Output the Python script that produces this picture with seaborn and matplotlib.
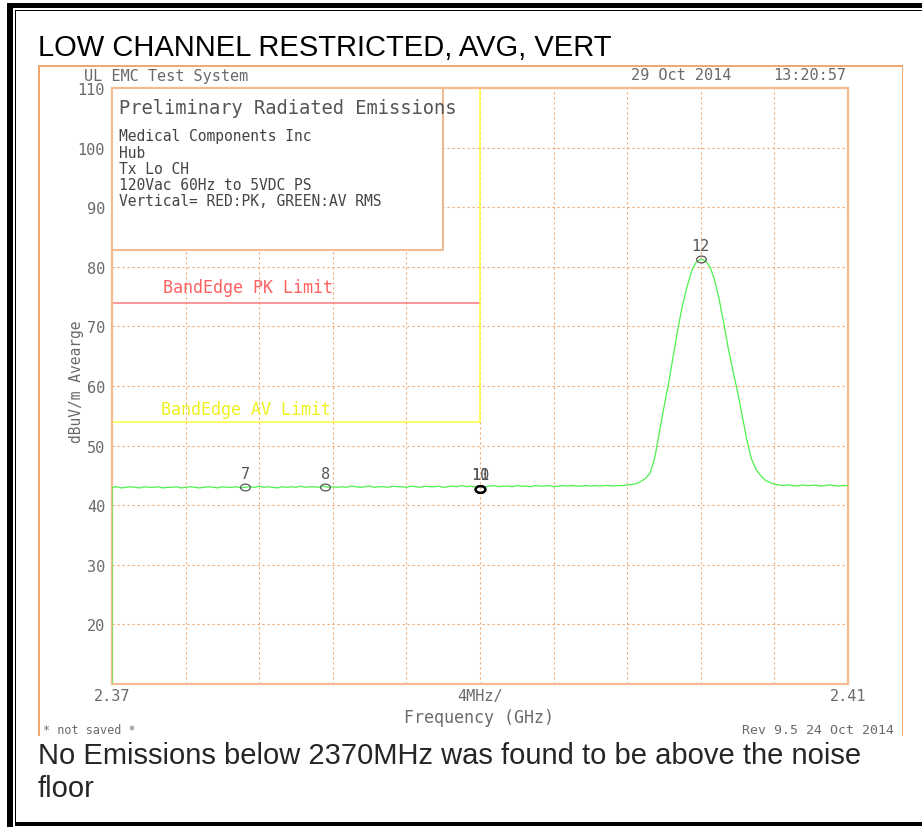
import numpy as np
import matplotlib
matplotlib.use("Agg")
import matplotlib.pyplot as plt
import seaborn as sns
from matplotlib.patches import Rectangle
from matplotlib.path import Path
from matplotlib.transforms import Affine2D

# sweep of the analyzer, 2.37 - 2.41 GHz (161 points, 0.25 MHz apart)
sweep_ghz = np.linspace(2.37, 2.41, 161)

# AV RMS trace, dBuV/m
trace_db = [
    43.0, 43.1, 42.9, 43.0, 43.1, 43.0, 42.9, 43.1, 43.0, 43.0,
    43.1, 42.9, 43.0, 43.0, 43.1, 42.9, 43.0, 43.1, 43.0, 42.9,
    43.0, 43.1, 43.0, 42.9, 43.1, 43.0, 43.0, 43.1, 42.9, 43.0,
    43.1, 43.0, 43.2, 43.0, 43.1, 43.0, 42.9, 43.1, 43.0, 43.1,
    43.0, 43.2, 43.0, 43.1, 43.1, 43.0, 43.2, 43.0, 43.1, 43.0,
    43.1, 43.0, 43.2, 43.1, 43.0, 43.1, 43.2, 43.0, 43.1, 43.1,
    43.0, 43.2, 43.1, 43.1, 43.0, 43.2, 43.1, 43.0, 43.2, 43.1,
    43.1, 43.2, 43.0, 43.1, 43.2, 43.1, 43.3, 43.1, 43.2, 43.1,
    43.2, 43.1, 43.2, 43.3, 43.1, 43.2, 43.2, 43.1, 43.3, 43.2,
    43.2, 43.1, 43.3, 43.2, 43.2, 43.3, 43.1, 43.2, 43.3, 43.2,
    43.3, 43.2, 43.2, 43.3, 43.2, 43.3, 43.2, 43.3, 43.3, 43.2,
    43.3, 43.3, 43.4, 43.5,
    43.6, 44.0, 44.5, 45.4, 48.0, 52.3, 56.5, 60.5, 65.0, 69.5,
    73.5, 76.6, 79.3, 80.8, 81.3, 81.0, 80.0, 77.8, 74.5, 70.5,
    66.2, 62.5, 59.0, 55.0, 51.0, 47.8, 46.0, 45.0, 44.2, 43.8,
    43.5,
    43.4, 43.3, 43.4, 43.3, 43.2, 43.4, 43.3, 43.3, 43.4, 43.2,
    43.3, 43.4, 43.3, 43.2, 43.3, 43.3,
]
trace_floor_db = 10.0  # trace starts from the bottom of the screen

# limit lines
pk_limit_ghz = [2.37, 2.39]
pk_limit_db = [74, 74]
av_limit_ghz = [2.37, 2.39, 2.39]
av_limit_db = [54, 54, 110]

# markers
marker_ids = ["7", "8", "10", "11", "12"]
marker_ghz = [2.37725, 2.3816, 2.39, 2.39, 2.402]
marker_db = [43.0, 43.0, 42.8, 42.8, 81.3]

info_lines = ["Medical Components Inc", "Hub", "Tx Lo CH",
              "120Vac 60Hz to 5VDC PS", "Vertical= RED:PK, GREEN:AV RMS"]

W, H = 922, 828
ORANGE = "#f0a870"
FRAME = "#f3bb92"
GRAY = "#6a6a6a"

sns.set_style("white")
plt.rcParams["font.family"] = ["DejaVu Sans Mono"]

fig = plt.figure(figsize=(W / 100, H / 100), dpi=100)


def px(x, y):
    return x / W, 1 - y / H


def box(x0, y0, x1, y1, color="black"):
    fig.add_artist(Rectangle(px(x0, y1), (x1 - x0) / W, (y1 - y0) / H,
                             transform=fig.transFigure, facecolor=color,
                             edgecolor="none"))


# document borders
box(7, 4, 13, 828)
box(7, 4, 922, 9)
box(15, 11, 16, 825)
box(15, 11, 922, 12)
box(15, 823, 922, 827)

# orange screen frame (top, left, right)
box(38, 66, 903, 67.5, ORANGE)
box(38, 66, 39.5, 737, ORANGE)
box(901.5, 66, 903, 737, ORANGE)

ax = fig.add_axes([112 / W, 1 - 685 / H, 736 / W, 596 / H])
ax.set_xlim(2.37, 2.41)
ax.set_ylim(10, 110)

ax.set_xticks(np.linspace(2.37, 2.41, 11))
ax.set_xticklabels(["2.37"] + [""] * 4 + ["4MHz/"] + [""] * 4 + ["2.41"])
ax.set_yticks(range(10, 111, 10))
ax.set_yticklabels([""] + [str(v) for v in range(20, 111, 10)])
ax.tick_params(axis="both", length=0, labelcolor=GRAY, labelsize=11)
ax.tick_params(axis="y", pad=5)
ax.tick_params(axis="x", pad=3)
ax.grid(True, color=ORANGE, linestyle=(0, (2, 2.5)), linewidth=0.8)
ax.set_axisbelow(True)
for s in ax.spines.values():
    s.set_color(FRAME)
    s.set_linewidth(1.6)

# info box covering the grid
ax.add_patch(Rectangle((2.37, 82.8), 0.018, 27.2, facecolor="white",
                       edgecolor=FRAME, linewidth=1.5, zorder=3))

sns.lineplot(x=pk_limit_ghz, y=pk_limit_db, color="#ff7a7a", linewidth=1.1,
             estimator=None, sort=False, ax=ax, zorder=2)
sns.lineplot(x=av_limit_ghz, y=av_limit_db, color="#ffff40", linewidth=1.1,
             estimator=None, sort=False, ax=ax, zorder=2)

trace_x = np.concatenate([[2.37], sweep_ghz])
trace_y = [trace_floor_db] + trace_db
sns.lineplot(x=trace_x, y=trace_y, color="#4cf24c", linewidth=0.9,
             estimator=None, sort=False, ax=ax, zorder=4)

oval = Path.unit_circle().transformed(Affine2D().scale(1.0, 0.7))
for mid, mx, my in zip(marker_ids, marker_ghz, marker_db):
    bold = mid in ("10", "11")
    ax.plot(mx, my, marker=oval, markersize=7, linestyle="none",
            markerfacecolor="none", zorder=5,
            markeredgecolor="black" if bold else "#555555",
            markeredgewidth=1.6 if bold else 0.9)
    ax.annotate(mid, (mx, my), xytext=(0, 10), textcoords="offset points",
                ha="center", va="center", fontsize=11, color="#555555",
                zorder=5)

# texts
fig.text(*px(38, 48), "LOW CHANNEL RESTRICTED, AVG, VERT", family="Liberation Sans",
         fontsize=21, ha="left", va="center", color="black")
fig.text(*px(38, 756), "No Emissions below 2370MHz was found to be above the noise",
         family="Liberation Sans", fontsize=21, ha="left", va="center")
fig.text(*px(38, 789), "floor", family="Liberation Sans", fontsize=21,
         ha="left", va="center")

fig.text(*px(84, 76), "UL EMC Test System", fontsize=11, color=GRAY, va="center")
fig.text(*px(631, 76), "29 Oct 2014", fontsize=11, color=GRAY, va="center")
fig.text(*px(846, 76), "13:20:57", fontsize=11, color=GRAY, va="center", ha="right")

fig.text(*px(119, 108), "Preliminary Radiated Emissions", fontsize=13.5,
         color="#555555", va="center")
for i, line in enumerate(info_lines):
    fig.text(*px(119, 137 + i * 16.2), line, fontsize=10.5, color="#444444",
             va="center")

fig.text(*px(163, 288), "BandEdge PK Limit", fontsize=12, color="#ff6060",
         va="center")
fig.text(*px(161, 410), "BandEdge AV Limit", fontsize=12, color="#f0f020",
         va="center")

fig.text(*px(76, 382), "dBuV/m Avearge", fontsize=10.5, color=GRAY,
         rotation=90, ha="center", va="center")
fig.text(*px(479, 718), "Frequency (GHz)", fontsize=12, color=GRAY,
         ha="center", va="center")
fig.text(*px(43, 731), "* not saved *", fontsize=8.5, color=GRAY, va="center")
fig.text(*px(894, 731), "Rev 9.5 24 Oct 2014", fontsize=9.5, color=GRAY,
         va="center", ha="right")

fig.savefig("out.png", dpi=100, facecolor="white")
